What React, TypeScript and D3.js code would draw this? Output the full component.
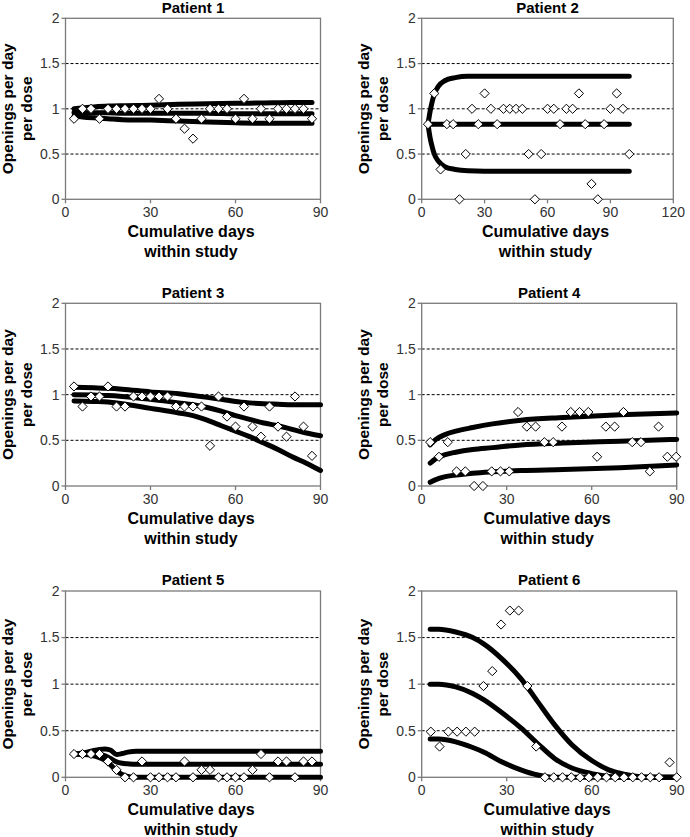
import React from 'react';
import * as d3 from 'd3';

// ---------- DATA ----------
const yTicks = [0, 0.5, 1, 1.5, 2];
const gridValues = [0.5, 1, 1.5];
const xTicks90 = [0, 30, 60, 90];
const xTicks120 = [0, 30, 60, 90, 120];

const patientTitles = ['Patient 1', 'Patient 2', 'Patient 3', 'Patient 4', 'Patient 5', 'Patient 6'];
const yTitleLines = ['Openings per day', 'per dose'];
const xTitleLines = ['Cumulative days', 'within study'];

// Patient 1
const p1Days = [3, 6, 9, 12, 15, 18, 21, 24, 27, 30, 33, 36, 39, 42, 45, 48, 51, 54, 57, 60, 63, 66, 69, 72, 75, 78, 81, 84, 87];
const p1Values = [0.89, 1, 1, 0.89, 1, 1, 1, 1, 1, 1, 1.11, 1, 0.89, 0.78, 0.67, 0.89, 1, 1, 1, 0.89, 1.11, 0.89, 1, 0.89, 1, 1, 1, 1, 0.89];
const p1CurveDays = [3, 6, 10, 15, 20, 30, 40, 50, 60, 70, 80, 87];
const p1Upper = [1.0, 1.01, 1.02, 1.03, 1.035, 1.04, 1.05, 1.055, 1.06, 1.065, 1.07, 1.07];
const p1Middle = [0.96, 0.96, 0.955, 0.955, 0.95, 0.95, 0.95, 0.95, 0.945, 0.945, 0.945, 0.945];
const p1Lower = [0.92, 0.91, 0.9, 0.89, 0.88, 0.875, 0.865, 0.855, 0.845, 0.84, 0.84, 0.84];

// Patient 2
const p2Days = [3, 6, 9, 12, 15, 18, 21, 24, 27, 30, 33, 36, 39, 42, 45, 48, 51, 54, 57, 60, 63, 66, 69, 72, 75, 78, 81, 84, 87, 90, 93, 96, 99];
const p2Values = [0.83, 1.17, 0.33, 0.83, 0.83, 0, 0.5, 1, 0.83, 1.17, 1, 0.83, 1, 1, 1, 1, 0.5, 0, 0.5, 1, 1, 0.83, 1, 1, 1.17, 0.83, 0.17, 0, 0.83, 1, 1.17, 1, 0.5];
const p2CurveDays = [3, 4, 5, 6, 8, 11, 16, 22, 30, 50, 70, 99];
const p2Upper = [0.83, 0.97, 1.08, 1.16, 1.25, 1.31, 1.345, 1.36, 1.36, 1.36, 1.36, 1.36];
const p2Middle = [0.83, 0.83, 0.83, 0.83, 0.83, 0.83, 0.83, 0.83, 0.83, 0.83, 0.83, 0.83];
const p2Lower = [0.83, 0.68, 0.58, 0.5, 0.42, 0.36, 0.33, 0.315, 0.31, 0.31, 0.31, 0.31];

// Patient 3
const p3Days = [3, 6, 9, 12, 15, 18, 21, 24, 27, 30, 33, 36, 39, 42, 45, 48, 51, 54, 57, 60, 63, 66, 69, 72, 75, 78, 81, 84, 87];
const p3Values = [1.09, 0.87, 0.98, 0.98, 1.09, 0.87, 0.87, 0.98, 0.98, 0.98, 0.98, 0.98, 0.87, 0.87, 0.87, 0.87, 0.44, 0.98, 0.76, 0.65, 0.87, 0.65, 0.54, 0.87, 0.65, 0.54, 0.98, 0.65, 0.33];
const p3CurveDays = [3, 10, 15, 20, 30, 40, 45, 50, 55, 60, 65, 70, 75, 80, 85, 90];
const p3Upper = [1.08, 1.075, 1.07, 1.06, 1.03, 1.01, 0.99, 0.97, 0.95, 0.925, 0.91, 0.9, 0.895, 0.89, 0.89, 0.89];
const p3Middle = [1.0, 0.995, 0.99, 0.98, 0.95, 0.91, 0.89, 0.86, 0.82, 0.77, 0.73, 0.69, 0.66, 0.62, 0.58, 0.55];
const p3Lower = [0.93, 0.925, 0.92, 0.9, 0.85, 0.8, 0.77, 0.72, 0.66, 0.6, 0.54, 0.47, 0.4, 0.32, 0.25, 0.17];

// Patient 4
const p4Days = [3, 6.1, 9.2, 12.3, 15.4, 18.5, 21.6, 24.7, 27.8, 30.9, 34, 37.1, 40.2, 43.3, 46.4, 49.5, 52.6, 55.7, 58.8, 61.9, 65, 68.1, 71.2, 74.3, 77.4, 80.5, 83.6, 86.7, 89.8];
const p4Values = [0.48, 0.32, 0.48, 0.16, 0.16, 0, 0, 0.16, 0.16, 0.16, 0.81, 0.65, 0.65, 0.48, 0.48, 0.65, 0.81, 0.81, 0.81, 0.32, 0.65, 0.65, 0.81, 0.48, 0.48, 0.16, 0.65, 0.32, 0.32];
const p4CurveDays = [3, 5, 8, 12, 18, 25, 35, 50, 70, 90];
const p4Upper = [0.45, 0.51, 0.56, 0.6, 0.64, 0.68, 0.72, 0.75, 0.78, 0.8];
const p4Middle = [0.25, 0.3, 0.34, 0.37, 0.4, 0.42, 0.45, 0.47, 0.49, 0.51];
const p4Lower = [0.04, 0.07, 0.1, 0.12, 0.14, 0.155, 0.17, 0.18, 0.2, 0.23];

// Patient 5
const p5Days = [3, 6, 9, 12, 15, 18, 21, 24, 27, 30, 33, 36, 39, 42, 45, 48, 51, 54, 57, 60, 63, 66, 69, 72, 75, 78, 81, 84, 87];
const p5Values = [0.25, 0.25, 0.25, 0.25, 0.17, 0.08, 0, 0, 0.17, 0, 0, 0, 0, 0.17, 0, 0.08, 0.08, 0, 0, 0, 0, 0.08, 0.25, 0, 0.17, 0.17, 0, 0.17, 0.17];
const p5CurveDays = [3, 6, 9, 12, 14, 16, 18, 20, 22, 25, 30, 50, 90];
const p5Upper = [0.25, 0.26, 0.28, 0.3, 0.305, 0.29, 0.245, 0.255, 0.27, 0.28, 0.28, 0.28, 0.28];
const p5Middle = [0.25, 0.25, 0.25, 0.245, 0.23, 0.2, 0.165, 0.15, 0.145, 0.14, 0.14, 0.14, 0.14];
const p5Lower = [0.25, 0.245, 0.235, 0.21, 0.18, 0.13, 0.07, 0.03, 0.01, 0, 0, 0, 0];

// Patient 6
const p6Days = [3.2, 6.3, 9.4, 12.5, 15.6, 18.7, 21.8, 24.9, 28, 31.1, 34.2, 37.3, 40.4, 43.5, 46.6, 49.7, 52.8, 55.9, 59, 62.1, 65.2, 68.3, 71.4, 74.5, 77.6, 80.7, 83.8, 87.5, 90];
const p6Values = [0.49, 0.33, 0.49, 0.49, 0.49, 0.49, 0.98, 1.14, 1.64, 1.79, 1.79, 0.98, 0.33, 0, 0, 0, 0, 0, 0, 0, 0, 0, 0, 0, 0, 0, 0, 0.16, 0];
const p6CurveDays = [3, 6, 12, 18, 22, 28, 35, 41, 47, 53, 60, 66, 72, 80, 90];
const p6Upper = [1.59, 1.59, 1.56, 1.5, 1.43, 1.28, 1.06, 0.81, 0.56, 0.35, 0.18, 0.08, 0.03, 0, 0];
const p6Middle = [1.0, 1.0, 0.97, 0.9, 0.83, 0.7, 0.53, 0.36, 0.2, 0.1, 0.04, 0.01, 0, 0, 0];
const p6Lower = [0.41, 0.41, 0.38, 0.32, 0.27, 0.17, 0.08, 0.025, 0, 0, 0, 0, 0, 0, 0];

// ---------- LAYOUT ----------
const panels = [
  { title: patientTitles[0], left: 65.5, right: 320.5, top: 18.3, bottom: 199.3, xMax: 90, xTicks: xTicks90,
    days: p1Days, values: p1Values, curveDays: p1CurveDays, curves: [p1Upper, p1Middle, p1Lower] },
  { title: patientTitles[1], left: 421.7, right: 673.3, top: 18.3, bottom: 199.3, xMax: 120, xTicks: xTicks120,
    days: p2Days, values: p2Values, curveDays: p2CurveDays, curves: [p2Upper, p2Middle, p2Lower] },
  { title: patientTitles[2], left: 65.5, right: 320.5, top: 303.3, bottom: 486, xMax: 90, xTicks: xTicks90,
    days: p3Days, values: p3Values, curveDays: p3CurveDays, curves: [p3Upper, p3Middle, p3Lower] },
  { title: patientTitles[3], left: 421.7, right: 676.7, top: 303.3, bottom: 486, xMax: 90, xTicks: xTicks90,
    days: p4Days, values: p4Values, curveDays: p4CurveDays, curves: [p4Upper, p4Middle, p4Lower] },
  { title: patientTitles[4], left: 65.5, right: 320.5, top: 591, bottom: 777.3, xMax: 90, xTicks: xTicks90,
    days: p5Days, values: p5Values, curveDays: p5CurveDays, curves: [p5Upper, p5Middle, p5Lower] },
  { title: patientTitles[5], left: 421.7, right: 676.7, top: 591, bottom: 777.3, xMax: 90, xTicks: xTicks90,
    days: p6Days, values: p6Values, curveDays: p6CurveDays, curves: [p6Upper, p6Middle, p6Lower] },
];

const FONT = '"Liberation Sans", Arial, Helvetica, sans-serif';
const AXIS_COLOR = '#7a7a7a';
const diamond = 'M0,-4.6L4.6,0L0,4.6L-4.6,0Z';

function Panel({ p }: { p: typeof panels[number] }) {
  const x = d3.scaleLinear().domain([0, p.xMax]).range([p.left, p.right]);
  const y = d3.scaleLinear().domain([0, 2]).range([p.bottom, p.top]);
  const line = d3.line<[number, number]>()
    .x(d => x(d[0]))
    .y(d => y(d[1]))
    .curve(d3.curveMonotoneX);
  const cx = (p.left + p.right) / 2;
  const cy = (p.top + p.bottom) / 2;
  return (
    <g>
      {/* grid */}
      {gridValues.map(v => (
        <line key={'g' + v} x1={p.left} x2={p.right} y1={y(v)} y2={y(v)}
          stroke="#000" strokeWidth={1} strokeDasharray="3,2" />
      ))}
      {/* frame */}
      <rect x={p.left} y={p.top} width={p.right - p.left} height={p.bottom - p.top}
        fill="none" stroke={AXIS_COLOR} strokeWidth={1.3} />
      {/* y ticks */}
      {yTicks.map(v => (
        <g key={'y' + v}>
          <line x1={p.left - 4} x2={p.left} y1={y(v)} y2={y(v)} stroke={AXIS_COLOR} strokeWidth={1.3} />
          <text x={p.left - 6} y={y(v)} dy="0.35em" textAnchor="end" fontSize={14}
            fontFamily={FONT} fill="#333">{String(v)}</text>
        </g>
      ))}
      {/* x ticks */}
      {p.xTicks.map(v => (
        <g key={'x' + v}>
          <line x1={x(v)} x2={x(v)} y1={p.bottom} y2={p.bottom + 4} stroke={AXIS_COLOR} strokeWidth={1.3} />
          <text x={x(v)} y={p.bottom + 18} textAnchor="middle" fontSize={14}
            fontFamily={FONT} fill="#333">{String(v)}</text>
        </g>
      ))}
      {/* model curves */}
      {p.curves.map((vals, k) => (
        <path key={'c' + k}
          d={line(p.curveDays.map((d, i) => [d, vals[i]] as [number, number])) || ''}
          fill="none" stroke="#000" strokeWidth={5} strokeLinecap="round" strokeLinejoin="round" />
      ))}
      {/* markers */}
      {p.days.map((d, i) => (
        <path key={'m' + i} d={diamond} transform={`translate(${x(d)},${y(p.values[i])})`}
          fill="#fff" stroke="#000" strokeWidth={1} />
      ))}
      {/* title */}
      <text x={cx} y={p.top - 5.8} textAnchor="middle" fontSize={15} fontWeight="bold"
        fontFamily={FONT} fill="#000">{p.title}</text>
      {/* y title */}
      {yTitleLines.map((t, i) => (
        <text key={'yt' + i} transform={`translate(${p.left - 52.5 + i * 18.5},${cy}) rotate(-90)`}
          textAnchor="middle" fontSize={15.5} fontWeight="bold" fontFamily={FONT} fill="#000">{t}</text>
      ))}
      {/* x title */}
      {xTitleLines.map((t, i) => (
        <text key={'xt' + i} x={cx - 2} y={p.bottom + 38 + i * 20}
          textAnchor="middle" fontSize={16} fontWeight="bold" fontFamily={FONT} fill="#000">{t}</text>
      ))}
    </g>
  );
}

export default function App() {
  return (
    <svg width={690} height={837} viewBox="0 0 690 837"
      style={{ position: 'absolute', left: 0, top: 0, display: 'block', background: '#fff' }}>
      <rect x={0} y={0} width={690} height={837} fill="#fff" />
      {panels.map((p, i) => <Panel key={i} p={p} />)}
    </svg>
  );
}
